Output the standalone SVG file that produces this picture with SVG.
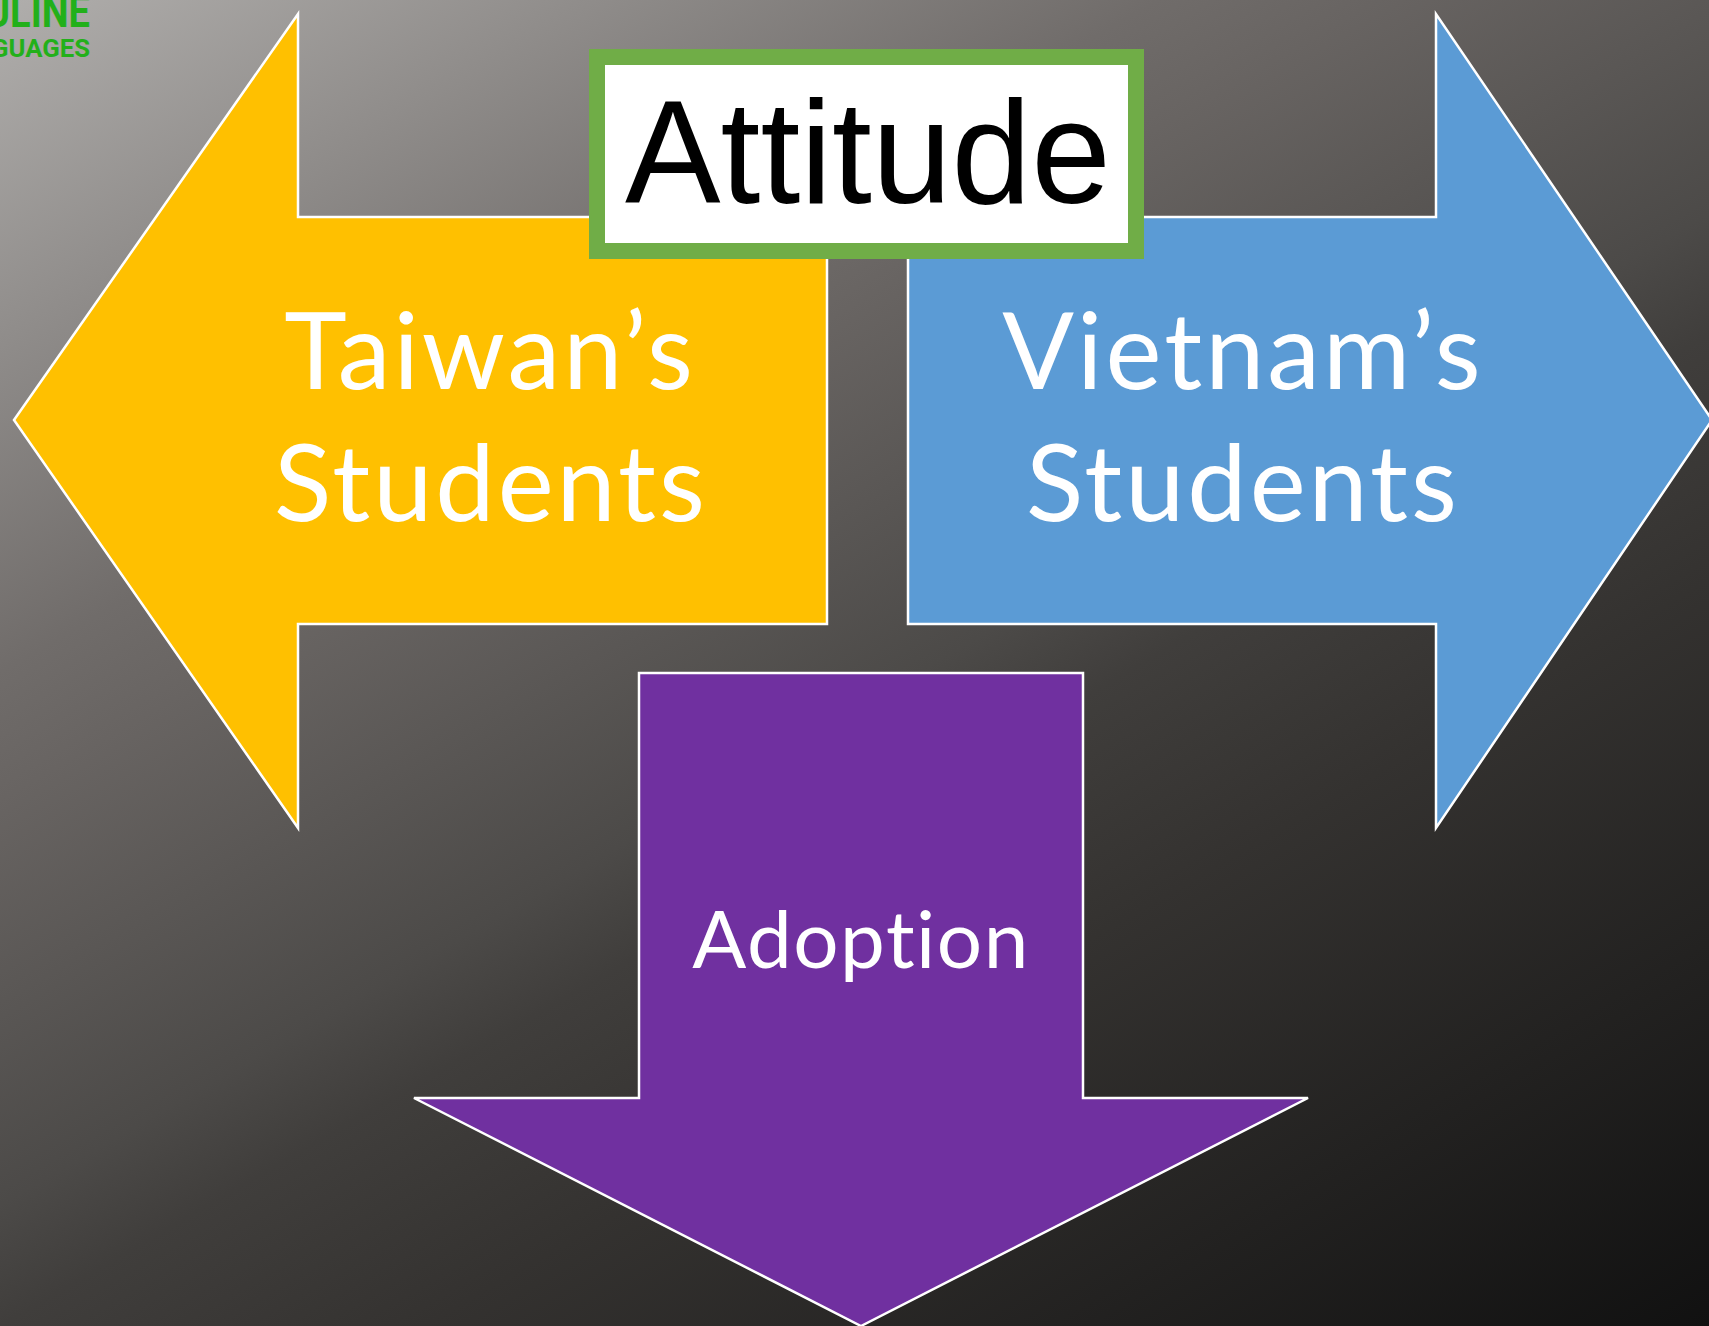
<svg xmlns="http://www.w3.org/2000/svg" width="1709" height="1326" viewBox="0 0 1709 1326">
<style>
.arrow{stroke:#fff;stroke-width:2.5;stroke-linejoin:miter}
.lbl{font-family:"Lato","Carlito","Open Sans",sans-serif;fill:#fff;text-anchor:middle;letter-spacing:3px}
.logo{font-family:"Roboto","Liberation Sans",sans-serif;font-weight:700;fill:#22b01a;text-anchor:end}
</style>
<defs>
<linearGradient id="bg" gradientUnits="userSpaceOnUse" x1="0" y1="0" x2="1006" y2="1734">
<stop offset="0" stop-color="#b0aeac"/>
<stop offset="0.29" stop-color="#706c6a"/>
<stop offset="0.345" stop-color="#686462"/>
<stop offset="0.52" stop-color="#4c4a48"/>
<stop offset="0.572" stop-color="#403e3c"/>
<stop offset="0.678" stop-color="#343230"/>
<stop offset="1" stop-color="#111"/>
</linearGradient>
</defs>
<rect id="background" width="1709" height="1326" fill="url(#bg)"/>
<g id="logo">
<text class="logo" x="90" y="27" font-size="44" textLength="105" lengthAdjust="spacingAndGlyphs">ULINE</text>
<text class="logo" x="90" y="57" font-size="26.5" textLength="99" lengthAdjust="spacingAndGlyphs">GUAGES</text>
</g>
<g id="taiwan">
<path class="arrow" fill="#ffc000" d="M14 420L298 14V217H827V624H298V828Z"/>
<text class="lbl" font-size="106"><tspan x="490" y="388.5">Taiwan’s</tspan><tspan x="491" y="520.5">Students</tspan></text>
</g>
<g id="vietnam">
<path class="arrow" fill="#5b9bd5" d="M908 217H1436V14L1712 420L1436 828V624H908Z"/>
<text class="lbl" font-size="106"><tspan x="1243" y="388.5">Vietnam’s</tspan><tspan x="1243" y="520.5">Students</tspan></text>
</g>
<g id="adoption">
<path class="arrow" fill="#7030a0" d="M639 673H1083V1098H1308L861 1326L414 1098H639Z"/>
<text class="lbl" font-size="80" x="861" y="968" style="letter-spacing:1.5px">Adoption</text>
</g>
<g id="attitude">
<rect x="597" y="57" width="539" height="194" fill="#fff" stroke="#70ad47" stroke-width="16"/>
<text x="625" y="203" font-family="'Liberation Sans',Arial,sans-serif" font-size="147" fill="#000" textLength="486" lengthAdjust="spacingAndGlyphs">Attitude</text>
</g>
</svg>
